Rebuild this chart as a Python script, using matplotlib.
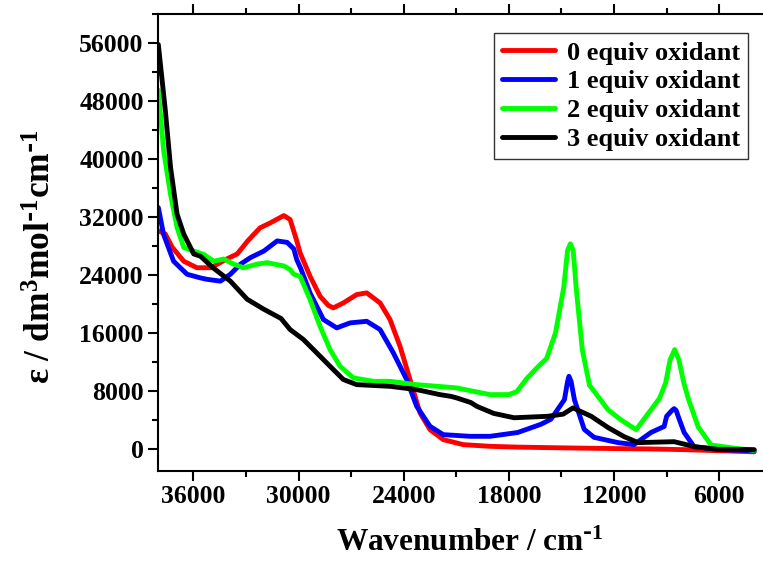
import matplotlib
matplotlib.use("Agg")
import matplotlib.pyplot as plt
from matplotlib.ticker import MultipleLocator

plt.rcParams['font.family'] = ['Liberation Serif', 'DejaVu Serif']
plt.rcParams['font.weight'] = 'bold'
plt.rcParams['mathtext.default'] = 'regular'

labels = ["0 equiv oxidant", "1 equiv oxidant", "2 equiv oxidant", "3 equiv oxidant"]
colors = ["#ff0000", "#0000ff", "#00ff00", "#000000"]

red_x = [38000, 37600, 37200, 36550, 35800, 35000, 34100, 33500, 32900, 32200, 31600, 30840, 30480,
         30100, 29910, 29340, 28770, 28300, 28010, 27440, 26680, 26110, 25350, 24780, 24210, 23640,
         23070, 22500, 21740, 20600, 19070, 17500, 15000, 12000, 10000, 8000, 6000, 4000]
red_y = [30100, 29650, 27800, 25900, 25000, 25000, 26200, 26900, 28700, 30500, 31200, 32200, 31650,
         28700, 27050, 23800, 21060, 19800, 19460, 20150, 21300, 21530, 20150, 17850, 14160, 9570,
         4970, 2660, 1280, 590, 360, 250, 150, 50, 0, -100, -250, -400]

blue_x = [38000, 37700, 37130, 36360, 35600, 35220, 34460, 33890, 33310, 32740, 31980, 31220, 30650,
          30270, 30100, 29890, 29340, 28580, 27820, 27060, 26110, 25350, 24590, 23830, 23260, 22500,
          21740, 20210, 19070, 17490, 16170, 15600, 14830, 14650, 14570, 14450, 14260, 13700, 13140,
          11770, 10860, 9890, 9140, 9000, 8700, 8570, 8450, 8340, 8000, 7430, 6000, 4000]
blue_y = [33300, 29600, 25900, 24100, 23600, 23400, 23150, 24100, 25500, 26400, 27300, 28700, 28500,
          27600, 26100, 25000, 21500, 17850, 16700, 17390, 17610, 16470, 13250, 9570, 5880, 3120,
          1970, 1740, 1740, 2270, 3400, 4100, 6800, 9300, 10020, 9300, 6800, 2700, 1600,
          870, 600, 2270, 3100, 4500, 5300, 5560, 5300, 4500, 2270, 300, -100, -250]

green_x = [38000, 37700, 37310, 36930, 36550, 35980, 35410, 34840, 34270, 33700, 33130, 32360, 31790,
           30840, 30480, 30270, 29910, 29340, 28770, 28200, 27630, 26870, 25730, 24780, 23260, 20980,
           19070, 18000, 17550, 16980, 16400, 15840, 15340, 14870, 14650, 14490, 14330, 14160, 13810,
           13400, 12340, 11600, 10740, 9890, 9400, 9050, 8800, 8540, 8300, 8020, 7770, 7200, 6460,
           5100, 4000]
green_y = [49500, 41200, 35200, 30550, 27800, 27300, 26850, 25900, 26200, 25500, 25000, 25500, 25700,
           25250, 24750, 24100, 23800, 20600, 16900, 13700, 11400, 9800, 9330, 9330, 8870, 8420,
           7490, 7500, 7900, 9700, 11180, 12500, 16000, 22260, 27400, 28300, 27400, 22260, 13700,
           8800, 5400, 4000, 2660, 5400, 7000, 9150, 12300, 13700, 12300, 9150, 7000, 3050, 530,
           100, -200]

black_x = [38000, 37600, 37300, 36930, 36550, 35980, 35600, 34860, 33890, 32930, 32000, 31000, 30480,
           29720, 28960, 28200, 27440, 26680, 24780, 23260, 21930, 21300, 20980, 20170, 19830, 18860,
           17700, 15800, 14900, 14340, 13300, 12340, 11430, 10630, 8570, 7430, 6100, 4000]
black_y = [55800, 46700, 38800, 32400, 29650, 26900, 26600, 24960, 23150, 20650, 19300, 18000, 16470,
           15090, 13250, 11400, 9570, 8870, 8640, 8180, 7490, 7250, 7040, 6400, 5880, 4900,
           4300, 4500, 4800, 5660, 4500, 2950, 1700, 870, 1000, 320, -50, -100]

series_x = [red_x, blue_x, green_x, black_x]
series_y = [red_y, blue_y, green_y, black_y]

fig = plt.figure(figsize=(7.63, 5.63), dpi=100)
ax = fig.add_axes([0.2075, 0.164, 0.7925, 0.811])

for xs, ys, c, lab in zip(series_x, series_y, colors, labels):
    ax.plot(xs, ys, color=c, lw=3.5, label=lab, solid_joinstyle='round', solid_capstyle='round')

ax.set_xlim(38000, 3500)
ax.set_ylim(-3000, 60000)
ax.xaxis.set_minor_locator(MultipleLocator(3000))
ax.yaxis.set_minor_locator(MultipleLocator(4000))
ax.set_yticks([0, 8000, 16000, 24000, 32000, 40000, 48000, 56000])
ax.set_xticks([36000, 30000, 24000, 18000, 12000, 6000])

ax.tick_params(which='both', direction='out', width=1.5, top=True, right=False, labelsize=18.5)
ax.tick_params(which='major', length=7)
ax.tick_params(which='minor', length=4)
for sp in ax.spines.values():
    sp.set_linewidth(1.5)
ax.spines['right'].set_visible(False)

ax.set_xlabel('Wavenumber / cm$^{\\text{-}1}$', fontsize=22.5, fontweight='bold')
ax.set_ylabel('ε / dm$^{3}$mol$^{\\text{-}1}$cm$^{\\text{-}1}$', fontsize=25.5, fontweight='bold')
ax.xaxis.set_label_coords(0.515, -0.127)
ax.yaxis.set_label_coords(-0.165, 0.47)

leg = ax.legend(loc='upper right', bbox_to_anchor=(0.975, 0.958), borderaxespad=0,
                fontsize=19, frameon=True, fancybox=False, edgecolor='black',
                handlelength=2.0, labelspacing=0.2, handletextpad=0.45, borderpad=0.3)
leg.get_frame().set_linewidth(1.0)

fig.savefig('out.png', dpi=100)
